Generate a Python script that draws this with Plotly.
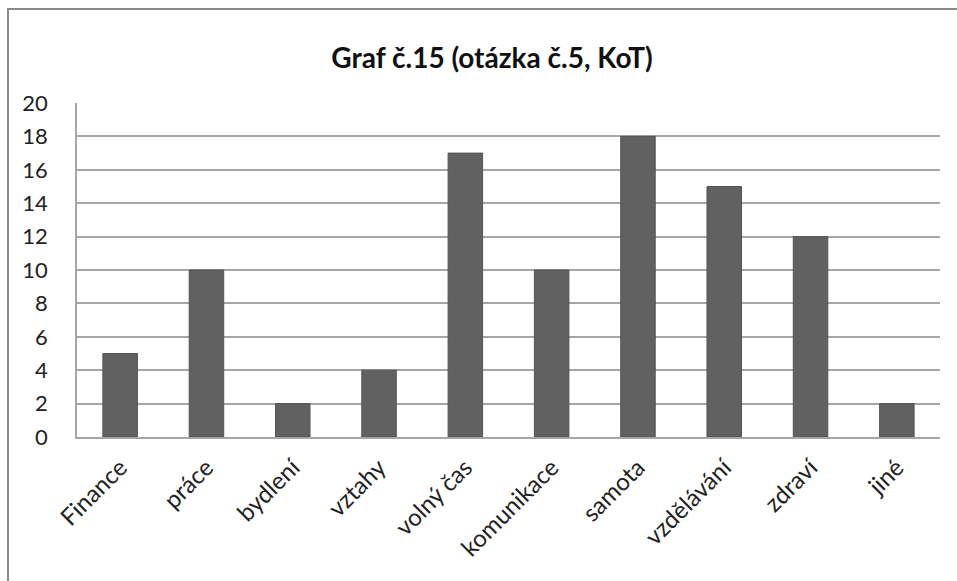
import plotly.graph_objects as go

# Survey answers (question 5, KoT)
categories = ["Finance", "práce", "bydlení", "vztahy", "volný čas",
              "komunikace", "samota", "vzdělávání", "zdraví", "jiné"]
counts = [5, 10, 2, 4, 17, 10, 18, 15, 12, 2]
y_ticks = list(range(0, 21, 2))

W, H = 957, 581
L, R, T, B = 77, 17, 103, 144
plot_w = W - L - R
plot_h = H - T - B

fig = go.Figure(go.Bar(
    x=categories,
    y=counts,
    marker=dict(color="#616161", line=dict(color="#555555", width=1)),
    width=0.4,
))

def px_x(p):
    return (p - L) / plot_w

def px_y(p):
    return (H - B - p) / plot_h

# outer chart frame (runs past the right and bottom edge of the page)
fig.add_shape(type="rect", xref="paper", yref="paper",
              x0=px_x(8), x1=px_x(W + 10), y0=px_y(H + 10), y1=px_y(9),
              line=dict(color="#8a8a8a", width=2), fillcolor="rgba(0,0,0,0)",
              layer="below")

fig.update_layout(
    width=W, height=H,
    margin=dict(l=L, r=R, t=T, b=B),
    paper_bgcolor="white", plot_bgcolor="white",
    showlegend=False,
    font=dict(family="Lato, 'Open Sans', sans-serif", color="#222222"),
    title=dict(text="<b>Graf č.15 (otázka č.5, KoT)</b>",
               x=492 / W, xanchor="center",
               y=1 - 58 / H, yanchor="middle",
               font=dict(size=28, color="#111111")),
    xaxis=dict(
        tickangle=-45, tickfont=dict(size=24, color="#222222"),
        showline=True, linecolor="#a6a6a6", linewidth=2,
        showgrid=False, ticks="", ticklabelstandoff=5,
    ),
    yaxis=dict(
        range=[0, 20], tickvals=y_ticks,
        tickfont=dict(size=22, color="#222222"),
        showgrid=True, gridcolor="#a6a6a6", gridwidth=1.5,
        showline=True, linecolor="#a6a6a6", linewidth=1.5,
        zeroline=False, ticks="", ticklabelstandoff=23,
    ),
)

fig.write_html("out.html")
